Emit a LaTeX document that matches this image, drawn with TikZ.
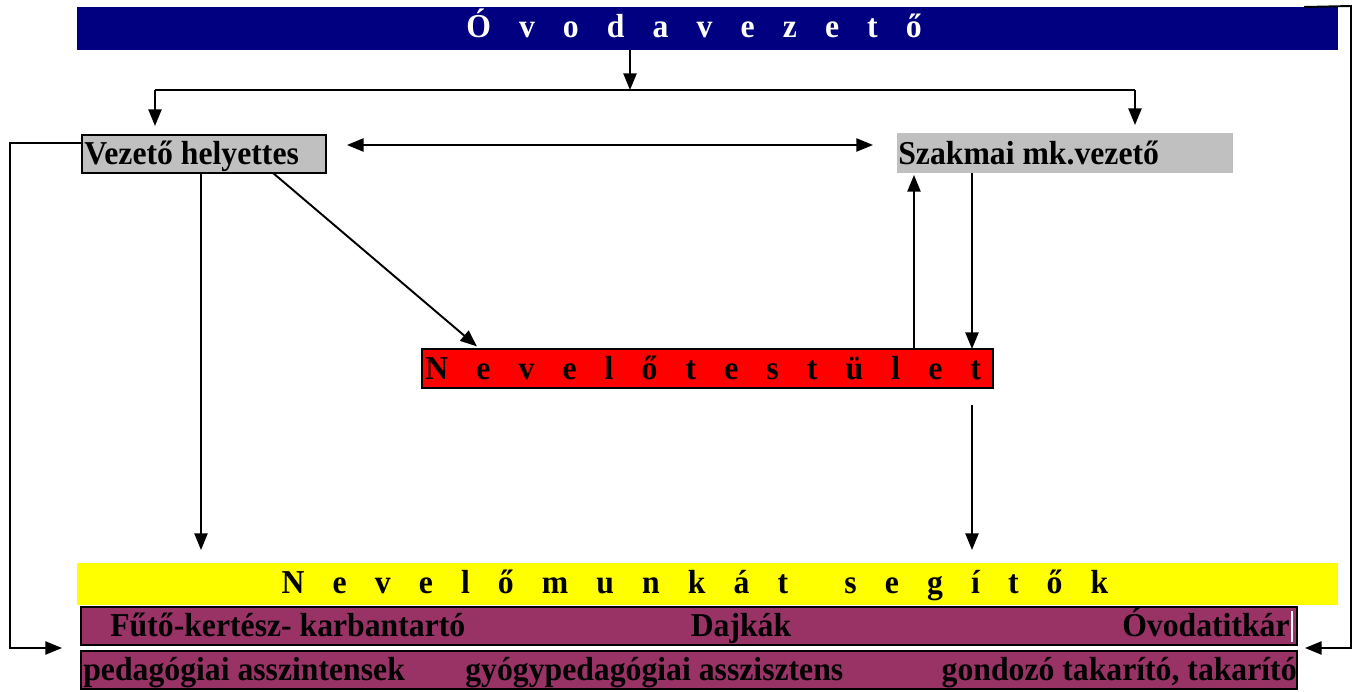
\documentclass[tikz,border=0pt]{standalone}
\usepackage{fontspec}
\setmainfont[FakeStretch=0.95]{Liberation Serif}
\usetikzlibrary{arrows.meta}
\usetikzlibrary{positioning}
\definecolor{ovkek}{RGB}{0,0,128}
\definecolor{ovszurke}{RGB}{192,192,192}
\definecolor{ovpiros}{RGB}{255,0,0}
\definecolor{ovsarga}{RGB}{255,255,0}
\definecolor{ovlila}{RGB}{153,51,102}
\newcommand{\ritka}{\spaceskip=16pt\relax}

\begin{document}
\begin{tikzpicture}[x=0.02cm, y=-0.02cm,
        box/.style={anchor=north west, inner sep=0pt, outer sep=0pt},
        txt/.style={font=\bfseries\fontsize{19}{21}\selectfont, inner sep=0pt},
        ritkit/.style={txt, execute at begin node=\ritka},
        nyil/.style={line width=1.1pt, -{Triangle[length=9.5pt, width=7.5pt]}},
        nyil2/.style={line width=1.1pt, {Triangle[length=9.5pt, width=7.5pt]}-{Triangle[length=9.5pt, width=7.5pt]}},
        vonal/.style={line width=1.1pt}]
    \useasboundingbox (0,0) rectangle (1353,692);

    % dobozok
    \node[box, fill=ovkek, minimum width=25.22cm, minimum height=0.86cm] (ovoda) at (77,7) {};
    \node[box, fill=ovszurke, draw, line width=1.1pt, minimum width=4.88cm, minimum height=0.76cm] (vez) at (82,135) {};
    \node[box, fill=ovszurke, minimum width=6.72cm, minimum height=0.8cm] (szak) at (897,133) {};
    \node[box, fill=ovpiros, draw, line width=1.1pt, minimum width=11.42cm, minimum height=0.78cm] (nev) at (422,349) {};
    \node[box, fill=ovsarga, minimum width=25.22cm, minimum height=0.84cm] (segito) at (77,563) {};
    \node[box, fill=ovlila, draw, line width=1.3pt, minimum width=24.32cm, minimum height=0.76cm] (sor1) at (81,607) {};
    \node[box, fill=ovlila, draw, line width=1.3pt, minimum width=24.32cm, minimum height=0.76cm] (sor2) at (81,651) {};
    \draw[white, line width=0.6pt] (1292,611) -- (1292,642);

    % feliratok
    \node[ritkit, text=white, anchor=base] (ovodat) at (694,38) {Ó v o d a v e z e t ő};
    \node[txt, anchor=base west] (vezt) at (84,165) {Vezető helyettes};
    \node[txt, anchor=base west] (szakt) at (898,165) {Szakmai mk.vezető};
    \node[ritkit, anchor=base west] (nevt) at (425,380) {N e v e l ő t e s t ü l e t};
    \node[ritkit, anchor=base] (segitot) at (695,593) {N e v e l ő m u n k á t\ \ s e g í t ő k};
    \node[txt, anchor=base west] (futo) at (110,636) {Fűtő-kertész- karbantartó};
    \node[txt, anchor=base] (dajka) at (741,636) {Dajkák};
    \node[txt, anchor=base east] (titkar) at (1290,636) {Óvodatitkár};
    \node[txt, anchor=base west] (ped) at (83,680) {pedagógiai asszintensek};
    \node[txt, anchor=base west] (gyogy) at (465,680) {gyógypedagógiai asszisztens};
    \node[txt, anchor=base east] (gond) at (1297,680) {gondozó takarító, takarító};

    % pontok
    \coordinate (elag) at (630,90);
    \coordinate (balag) at (155,90);
    \coordinate (jobbag) at (1135,90);
    \coordinate (seg1) at (201,550);
    \coordinate (seg2) at (972,550);
    \coordinate (balsarok) at (10,648);
    \coordinate (bal) at (62,648);
    \coordinate (jobbsarok) at (1351,6);
    \coordinate (jobb) at (1305,648);

    % nyilak
    \draw[nyil] (ovoda.south -| elag) -- (elag);
    \draw[vonal] (balag) -- (jobbag);
    \draw[nyil, shorten >=0.18cm] (balag) -- (vez.north -| balag);
    \draw[nyil, shorten >=0.16cm] (jobbag) -- (szak.north -| jobbag);
    \draw[nyil2, shorten <=0.42cm, shorten >=0.48cm] (vez.east |- 0,145) -- (szak.west |- 0,145);
    \draw[nyil] (vez.south -| seg1) -- (seg1);
    \draw[nyil, shorten >=0.08cm] (vez.south -| 273,0) -- (nev.north -| 480,0);
    \draw[nyil, shorten >=0.04cm] (nev.north -| 914,0) -- (szak.south -| 914,0);
    \draw[nyil] (szak.south -| seg2) -- (nev.north -| seg2);
    \draw[nyil, shorten <=0.34cm] (nev.south -| seg2) -- (seg2);
    \draw[nyil] (vez.west |- 0,143) -| (balsarok) -- (bal);
    \draw[nyil] (ovoda.north -| 1304,0) -- (jobbsarok) |- (jobb);
\end{tikzpicture}
\end{document}
